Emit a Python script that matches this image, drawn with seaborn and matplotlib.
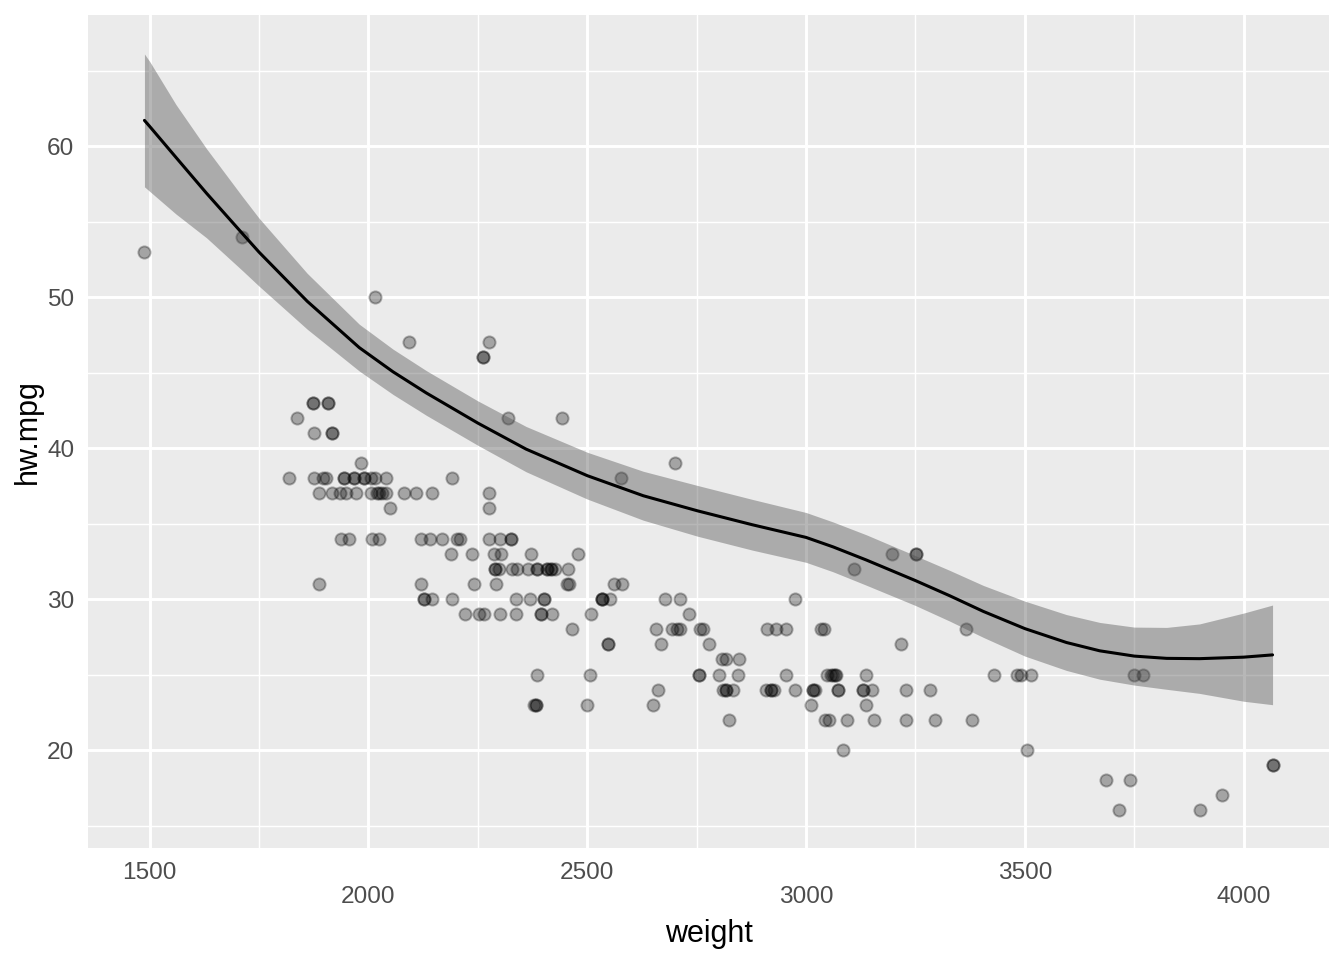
import matplotlib
matplotlib.use("Agg")
import matplotlib.pyplot as plt
from matplotlib.ticker import MultipleLocator
import seaborn as sns

# Points, one line per hw.mpg level
weight = [
    1712,
    1488,
    2016,
    2093, 2275,
    2262, 2262,
    1873, 1873, 1908, 1908,
    1837, 2318, 2442,
    1875, 1917, 1917,
    1984, 2700,
    1818, 1875, 1896, 1903, 1943, 1943, 1967, 1967, 1989, 1989, 2006, 2014, 2039, 2191, 2578,
    1888, 1917, 1936, 1948, 1971, 2006, 2020, 2023, 2030, 2039, 2080, 2109, 2144, 2276,
    2049, 2275,
    1938, 1955, 2009, 2024, 2121, 2140, 2168, 2202, 2210, 2275, 2301, 2325, 2325,
    2189, 2236, 2287, 2303, 2371, 2479, 3196, 3251, 3251,
    2288, 2288, 2298, 2328, 2340, 2364, 2384, 2384, 2408, 2408, 2416, 2416, 2427, 2457, 3110,
    1888, 2119, 2240, 2292, 2454, 2458, 2561, 2579,
    2127, 2127, 2145, 2191, 2336, 2370, 2402, 2402, 2534, 2534, 2534, 2551, 2678, 2713, 2975,
    2221, 2252, 2264, 2300, 2336, 2394, 2394, 2419, 2509, 2733,
    2464, 2658, 2694, 2706, 2711, 2757, 2764, 2911, 2932, 2953, 3033, 3042, 3366,
    2547, 2547, 2669, 2777, 3216,
    2808, 2818, 2846,
    2385, 2506, 2755, 2755, 2800, 2844, 2953, 3048, 3056, 3061, 3065, 3069, 3138, 3429, 3482,
    3491, 3515, 3749, 3770,
    2661, 2810, 2816, 2816, 2833, 2909, 2920, 2920, 2926, 2975, 3016, 3016, 3020, 3074, 3074,
    3130, 3130, 3151, 3229, 3284,
    2378, 2383, 2383, 2499, 2650, 3011, 3138,
    2824, 3044, 3052, 3094, 3155, 3229, 3295, 3379,
    3085, 3505,
    4066, 4066,
    3685, 3740,
    3950,
    3715, 3900,
]
hw_mpg = [
    54,
    53,
    50,
    47, 47,
    46, 46,
    43, 43, 43, 43,
    42, 42, 42,
    41, 41, 41,
    39, 39,
    38, 38, 38, 38, 38, 38, 38, 38, 38, 38, 38, 38, 38, 38, 38,
    37, 37, 37, 37, 37, 37, 37, 37, 37, 37, 37, 37, 37, 37,
    36, 36,
    34, 34, 34, 34, 34, 34, 34, 34, 34, 34, 34, 34, 34,
    33, 33, 33, 33, 33, 33, 33, 33, 33,
    32, 32, 32, 32, 32, 32, 32, 32, 32, 32, 32, 32, 32, 32, 32,
    31, 31, 31, 31, 31, 31, 31, 31,
    30, 30, 30, 30, 30, 30, 30, 30, 30, 30, 30, 30, 30, 30, 30,
    29, 29, 29, 29, 29, 29, 29, 29, 29, 29,
    28, 28, 28, 28, 28, 28, 28, 28, 28, 28, 28, 28, 28,
    27, 27, 27, 27, 27,
    26, 26, 26,
    25, 25, 25, 25, 25, 25, 25, 25, 25, 25, 25, 25, 25, 25, 25,
    25, 25, 25, 25,
    24, 24, 24, 24, 24, 24, 24, 24, 24, 24, 24, 24, 24, 24, 24,
    24, 24, 24, 24, 24,
    23, 23, 23, 23, 23, 23, 23,
    22, 22, 22, 22, 22, 22, 22, 22,
    20, 20,
    19, 19,
    18, 18,
    17,
    16, 16,
]

# Smoother and its confidence band
fit_x = [1488, 1500, 1560, 1630, 1712, 1750, 1860, 1979, 2056, 2132, 2250, 2360, 2500,
         2628, 2752, 2877, 3000, 3062, 3138, 3250, 3328, 3405, 3500, 3595, 3671,
         3750, 3824, 3899, 4000, 4066]
fit_y = [61.70, 61.30, 59.25, 56.87, 54.20, 52.97, 49.72, 46.65, 45.05, 43.65, 41.65, 39.93, 38.17,
         36.84, 35.84, 34.92, 34.08, 33.45, 32.58, 31.22, 30.22, 29.18, 28.04, 27.12, 26.57,
         26.22, 26.07, 26.05, 26.15, 26.30]
fit_hi = [66.10, 65.60, 62.75, 59.82, 56.65, 55.22, 51.57, 48.20, 46.55, 45.13, 43.12, 41.43, 39.72,
          38.46, 37.52, 36.60, 35.73, 35.10, 34.25, 32.87, 31.90, 30.90, 29.86, 28.97, 28.45,
          28.14, 28.12, 28.35, 29.07, 29.60]
fit_lo = [57.30, 57.00, 55.50, 53.92, 51.75, 50.72, 47.87, 45.10, 43.55, 42.17, 40.18, 38.43, 36.62,
          35.22, 34.16, 33.24, 32.43, 31.80, 30.91, 29.57, 28.54, 27.46, 26.22, 25.27, 24.69,
          24.30, 24.02, 23.75, 23.23, 23.00]

x_ticks = [1500, 2000, 2500, 3000, 3500, 4000]
x_tick_labels = ['1500', '\n2000', '2500', '\n3000', '3500', '\n4000']
y_ticks = [20, 30, 40, 50, 60]

sns.set_theme(style="darkgrid", rc={
    "axes.facecolor": "#EBEBEB",
    "grid.color": "white",
    "axes.edgecolor": "#EBEBEB",
})
plt.rcParams['font.family'] = ['Liberation Sans', 'DejaVu Sans']

fig, ax = plt.subplots(figsize=(6.72, 4.8), dpi=200)
fig.subplots_adjust(left=88 / 1344, right=1329 / 1344, top=1 - 15 / 960, bottom=1 - 848 / 960)

sns.scatterplot(x=weight, y=hw_mpg, color='black', alpha=0.3, s=19,
                edgecolor='black', linewidth=0.7, ax=ax, zorder=2)
ax.fill_between(fit_x, fit_lo, fit_hi, color='#4D4D4D', alpha=0.4, linewidth=0, zorder=3)
sns.lineplot(x=fit_x, y=fit_y, color='black', linewidth=1.1, ax=ax, zorder=4)

ax.set_xlim(1359, 4195)
ax.set_ylim(13.51, 68.68)

ax.xaxis.set_minor_locator(MultipleLocator(250))
ax.yaxis.set_minor_locator(MultipleLocator(5))
ax.set_xticks(x_ticks)
ax.set_xticklabels(x_tick_labels)
ax.set_yticks(y_ticks)

ax.grid(which='major', color='white', linewidth=1.07)
ax.grid(which='minor', color='white', linewidth=0.53)
ax.set_axisbelow(True)

ax.tick_params(which='major', length=2.75, width=1.07, color='#333333',
               labelsize=8.8, labelcolor='#4D4D4D', pad=2.2)
ax.tick_params(which='minor', length=0)
for lab in ax.get_xticklabels():
    lab.set_linespacing(1.15)
for s in ax.spines.values():
    s.set_visible(False)

ax.set_xlabel('weight', fontsize=11, color='black', labelpad=4)
ax.set_ylabel('hw.mpg', fontsize=11, color='black', labelpad=1.5)

fig.savefig('out.png', dpi=200)
